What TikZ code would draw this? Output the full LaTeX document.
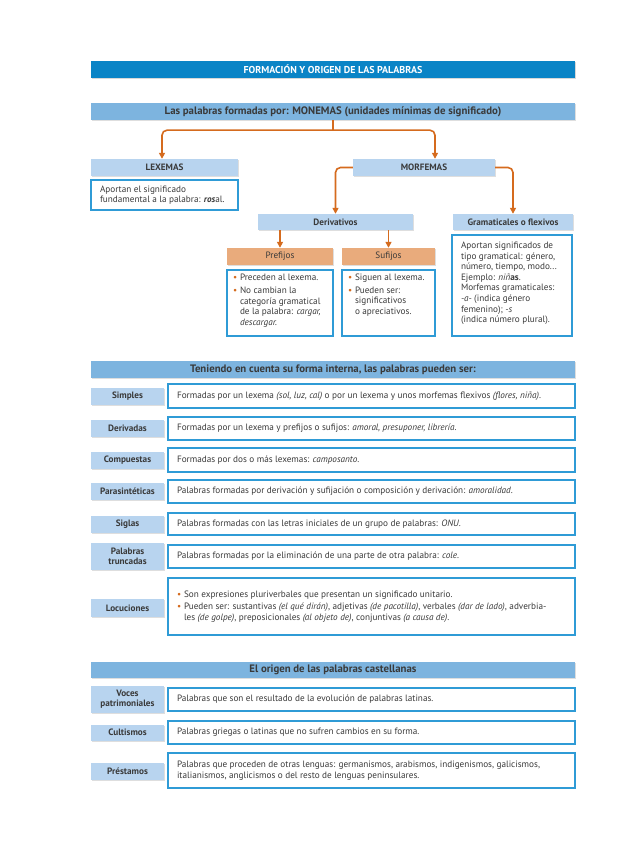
\documentclass[tikz,border=0pt]{standalone}
\usepackage{fontspec}
\setmainfont{PT Sans}
\usetikzlibrary{arrows.meta,shadows}
\definecolor{azulosc}{HTML}{0A84C6}
\definecolor{azulbar}{HTML}{7DB4DF}
\definecolor{azulcla}{HTML}{B8D4EF}
\definecolor{borde}{HTML}{2F9BD6}
\definecolor{naranja}{HTML}{D56B1E}
\definecolor{naranjacla}{HTML}{E9AB7C}
\definecolor{texto}{HTML}{3A3A3A}
\newcommand{\vinneta}{\hangindent=7pt\hangafter=1\noindent\makebox[7pt][l]{\textcolor{naranja}{\textbullet}}}
\newcommand{\pto}{\par\vspace{2pt}\vinneta}
\newcommand{\ptolargo}[1]{\par\vspace{2pt}\noindent\makebox[7pt][l]{\textcolor{naranja}{\textbullet}}\parbox[t]{380pt}{#1}}
\newcommand{\corte}{\hfil\break}
\tikzset{
	titulo/.style={fill=azulosc,text=white,font=\fontsize{10}{11}\selectfont\bfseries,minimum width=484pt,minimum height=17pt,inner sep=0pt,drop shadow={shadow xshift=1pt,shadow yshift=-1pt,fill=black!30}},
	barra/.style={fill=azulbar,text=texto,font=\fontsize{10.8}{12}\selectfont\bfseries,minimum width=484pt,inner sep=0pt,drop shadow={shadow xshift=1pt,shadow yshift=-1pt,fill=black!25}},
	etiq/.style={fill=azulcla,text=texto,font=\fontsize{9.2}{10}\selectfont\bfseries,inner sep=0pt,align=center,drop shadow={shadow xshift=1.2pt,shadow yshift=-1.2pt,fill=black!25}},
	etiqnar/.style={fill=naranjacla,text=texto,font=\fontsize{9.2}{10}\selectfont,inner sep=0pt,drop shadow={shadow xshift=1.2pt,shadow yshift=-1.2pt,fill=black!25}},
	caja/.style={draw=borde,line width=1.5pt,fill=white,text=texto,font=\fontsize{9.2}{10.6}\selectfont,align=flush left,inner xsep=9pt,inner ysep=0pt,drop shadow={shadow xshift=1pt,shadow yshift=-1pt,fill=black!20}},
	flecha/.style={draw=naranja,line width=1.6pt,rounded corners=5pt,-{Triangle[width=6pt,length=6pt]}}
}
\begin{document}
\begin{tikzpicture}[x=1pt,y=-1pt]
		\useasboundingbox[fill=white] (0,0) rectangle (635,848);
		\node[titulo] (tit) at (333,69.5) {FORMACIÓN Y ORIGEN DE LAS PALABRAS};
		\node[barra,minimum height=17pt] (monemas) at (333,111.5) {Las palabras formadas por: MONEMAS (unidades mínimas de significado)};
		\node[etiq,minimum width=147pt,minimum height=17pt] (lexemas) at (164.5,167.5) {LEXEMAS};
		\node[caja,text width=129pt,minimum height=30pt] (lextxt) at (164.5,195) {Aportan el significado\\fundamental a la palabra: \textbf{\textit{ros}}al.};
		\node[etiq,minimum width=142pt,minimum height=17pt] (morfemas) at (424,167.5) {MORFEMAS};
		\node[etiq,minimum width=155pt,minimum height=16pt] (deriv) at (335.5,222) {Derivativos};
		\node[etiq,minimum width=120pt,minimum height=16pt] (gram) at (513,222) {Gramaticales o flexivos};
		\node[etiqnar,minimum width=106pt,minimum height=17pt] (pref) at (280,256.5) {Prefijos};
		\node[etiqnar,minimum width=93pt,minimum height=17pt] (suf) at (388.5,256.5) {Sufijos};
		\node[caja,text width=94pt,inner xsep=6pt,minimum height=66pt,anchor=north] (preftxt) at (280,269) {\vinneta Preceden al lexema.\pto No cambian la\corte categoría gramatical\corte de la palabra: \textit{cargar,}\corte \textit{descargar.}\par\vspace{4pt}};
		\node[caja,text width=81pt,inner xsep=6pt,minimum height=66pt,anchor=north] (suftxt) at (388.5,269) {\vinneta Siguen al lexema.\pto Pueden ser:\corte significativos\corte o apreciativos.\par\vspace{15pt}};
		\node[caja,text width=102pt,minimum height=101pt,anchor=north] (gramtxt) at (512,234) {Aportan significados de\\tipo gramatical: género,\\número, tiempo, modo...\\Ejemplo: \textit{niñ}\textbf{as}.\\Morfemas gramaticales:\\\textit{-a-} (indica género\\femenino); \textit{-s}\\(indica número plural).\par\vspace{4pt}};
		\draw[draw=naranja,line width=1.6pt] (monemas.south) -- ++(0,10) coordinate (rama);
		\draw[flecha] (rama) -| ([xshift=-2.5pt]lexemas.north);
		\draw[flecha] (rama) -| ([xshift=11pt]morfemas.north);
		\draw[flecha] (morfemas.west) -| (deriv.north);
		\draw[flecha] (morfemas.east) -| (gram.north);
		\draw[flecha] (deriv.south -| pref.north) -- (pref.north);
		\draw[flecha] (deriv.south -| suf.north) -- (suf.north);
		\node[barra,minimum height=17pt] (forma) at (333,369.5) {Teniendo en cuenta su forma interna, las palabras pueden ser:};
		\node[etiq,minimum width=73pt,minimum height=17pt] (simples) at (127.5,396.5) {Simples};
		\node[caja,text width=389pt,minimum height=24pt] (simtxt) at (371.5,396) {Formadas por un lexema \textit{(sol, luz, cal)} o por un lexema y unos morfemas flexivos \textit{(flores, niña)}.};
		\node[etiq,minimum width=73pt,minimum height=17pt] (derivadas) at (127.5,428.5) {Derivadas};
		\node[caja,text width=389pt,minimum height=23pt] (dertxt) at (371.5,428.5) {Formadas por un lexema y prefijos o sufijos: \textit{amoral, presuponer, librería}.};
		\node[etiq,minimum width=73pt,minimum height=17pt] (compuestas) at (127.5,460.5) {Compuestas};
		\node[caja,text width=389pt,minimum height=24pt] (comtxt) at (371.5,460) {Formadas por dos o más lexemas: \textit{camposanto}.};
		\node[etiq,minimum width=73pt,minimum height=17pt] (parasint) at (127.5,491.5) {Parasintéticas};
		\node[caja,text width=389pt,minimum height=23pt] (partxt) at (371.5,491.5) {Palabras formadas por derivación y sufijación o composición y derivación: \textit{amoralidad}.};
		\node[etiq,minimum width=73pt,minimum height=17pt] (siglas) at (127.5,524.5) {Siglas};
		\node[caja,text width=389pt,minimum height=22pt] (sigtxt) at (371.5,524) {Palabras formadas con las letras iniciales de un grupo de palabras: \textit{ONU}.};
		\node[etiq,minimum width=73pt,minimum height=27pt] (truncadas) at (127.5,556.5) {Palabras\\truncadas};
		\node[caja,text width=389pt,minimum height=23pt] (trutxt) at (371.5,556.5) {Palabras formadas por la eliminación de una parte de otra palabra: \textit{cole}.};
		\node[etiq,minimum width=73pt,minimum height=18pt] (locuciones) at (127.5,608) {Locuciones};
		\node[caja,text width=389pt,minimum height=57pt] (loctxt) at (371.5,606.5) {\vinneta Son expresiones pluriverbales que presentan un significado unitario.\ptolargo{Pueden ser: sustantivas \textit{(el qué dirán)}, adjetivas \textit{(de pacotilla)}, verbales \textit{(dar de lado)}, adverbia-\\les \textit{(de golpe)}, preposicionales \textit{(al objeto de)}, conjuntivas \textit{(a causa de)}.}};
		\node[barra,minimum height=16pt] (origen) at (333,670) {El origen de las palabras castellanas};
		\node[etiq,minimum width=73pt,minimum height=27pt] (voces) at (127.5,699.5) {Voces\\patrimoniales};
		\node[caja,text width=389pt,minimum height=23pt] (voctxt) at (371.5,699.5) {Palabras que son el resultado de la evolución de palabras latinas.};
		\node[etiq,minimum width=73pt,minimum height=16pt] (cultismos) at (127.5,732.5) {Cultismos};
		\node[caja,text width=389pt,minimum height=23pt] (culttxt) at (371.5,732.5) {Palabras griegas o latinas que no sufren cambios en su forma.};
		\node[etiq,minimum width=73pt,minimum height=17pt] (prestamos) at (127.5,771.5) {Préstamos};
		\node[caja,text width=389pt,minimum height=35pt] (prestxt) at (371.5,770.5) {Palabras que proceden de otras lenguas: germanismos, arabismos, indigenismos, galicismos,\\italianismos, anglicismos o del resto de lenguas peninsulares.};
\end{tikzpicture}
\end{document}
